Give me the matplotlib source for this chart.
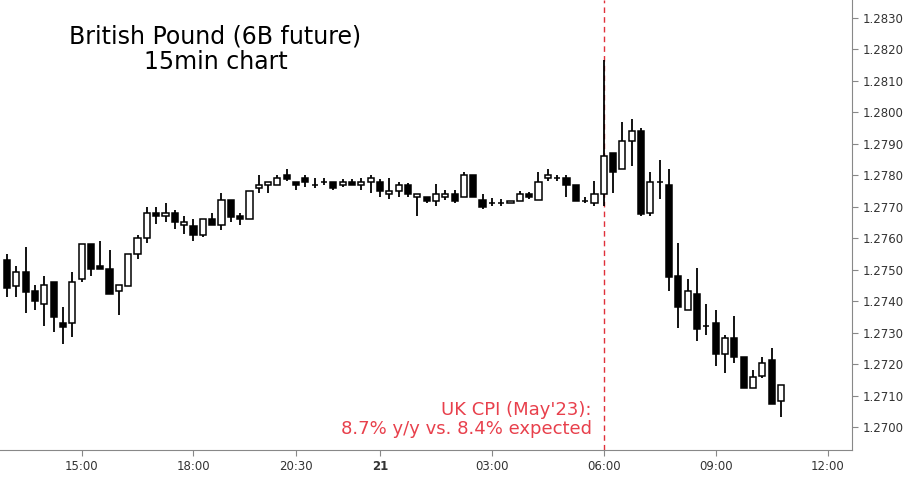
import matplotlib

matplotlib.use("Agg")
import matplotlib.pyplot as plt
import numpy as np

# 15min OHLC, British Pound future
opens = [1.27531, 1.27448, 1.27493, 1.27432, 1.27391, 1.27461, 1.27331, 1.27331, 1.27470, 1.27582,
         1.27512, 1.27502, 1.27432, 1.27448, 1.27550, 1.27601, 1.27680, 1.27671, 1.27680, 1.27642,
         1.27639, 1.27610, 1.27661, 1.27642, 1.27722, 1.27671, 1.27661, 1.27760, 1.27769, 1.27769,
         1.27801, 1.27779, 1.27791, 1.27769, 1.27779, 1.27779, 1.27769, 1.27779, 1.27769, 1.27779,
         1.27779, 1.27741, 1.27750, 1.27769, 1.27731, 1.27731, 1.27718, 1.27731, 1.27741, 1.27731,
         1.27801, 1.27722, 1.27712, 1.27712, 1.27712, 1.27718, 1.27741, 1.27722, 1.27791, 1.27791,
         1.27791, 1.27769, 1.27718, 1.27712, 1.27741, 1.27871, 1.27820, 1.27909, 1.27941, 1.27680,
         1.27779, 1.27769, 1.27480, 1.27372, 1.27423, 1.27321, 1.27331, 1.27232, 1.27283, 1.27223,
         1.27124, 1.27162, 1.27213, 1.27083]
highs = [1.27550, 1.27512, 1.27572, 1.27451, 1.27480, 1.27461, 1.27381, 1.27493, 1.27582, 1.27582,
         1.27591, 1.27563, 1.27451, 1.27550, 1.27610, 1.27699, 1.27699, 1.27712, 1.27690, 1.27671,
         1.27661, 1.27661, 1.27680, 1.27744, 1.27722, 1.27680, 1.27750, 1.27801, 1.27779, 1.27801,
         1.27820, 1.27779, 1.27801, 1.27791, 1.27791, 1.27779, 1.27788, 1.27788, 1.27791, 1.27801,
         1.27788, 1.27791, 1.27779, 1.27776, 1.27741, 1.27731, 1.27772, 1.27753, 1.27753, 1.27811,
         1.27801, 1.27741, 1.27728, 1.27725, 1.27718, 1.27750, 1.27747, 1.27811, 1.27820, 1.27801,
         1.27801, 1.27769, 1.27731, 1.27782, 1.28167, 1.27871, 1.27969, 1.27979, 1.27950, 1.27811,
         1.27849, 1.27820, 1.27585, 1.27470, 1.27505, 1.27391, 1.27372, 1.27292, 1.27353, 1.27223,
         1.27181, 1.27223, 1.27251, 1.27134]
lows = [1.27413, 1.27413, 1.27362, 1.27372, 1.27321, 1.27302, 1.27264, 1.27286, 1.27461, 1.27480,
        1.27502, 1.27423, 1.27356, 1.27448, 1.27534, 1.27585, 1.27645, 1.27652, 1.27629, 1.27613,
        1.27591, 1.27604, 1.27642, 1.27626, 1.27652, 1.27642, 1.27661, 1.27744, 1.27744, 1.27769,
        1.27782, 1.27753, 1.27763, 1.27760, 1.27769, 1.27753, 1.27763, 1.27769, 1.27753, 1.27744,
        1.27731, 1.27725, 1.27731, 1.27731, 1.27671, 1.27712, 1.27702, 1.27722, 1.27712, 1.27731,
        1.27731, 1.27693, 1.27702, 1.27702, 1.27712, 1.27718, 1.27725, 1.27722, 1.27782, 1.27782,
        1.27731, 1.27718, 1.27712, 1.27702, 1.27702, 1.27744, 1.27820, 1.27830, 1.27671, 1.27671,
        1.27725, 1.27432, 1.27315, 1.27372, 1.27273, 1.27292, 1.27194, 1.27172, 1.27203, 1.27124,
        1.27124, 1.27156, 1.27073, 1.27032]
closes = [1.27442, 1.27493, 1.27429, 1.27401, 1.27451, 1.27350, 1.27318, 1.27461, 1.27582, 1.27502,
          1.27502, 1.27423, 1.27451, 1.27550, 1.27601, 1.27680, 1.27671, 1.27680, 1.27652, 1.27652,
          1.27610, 1.27661, 1.27642, 1.27722, 1.27668, 1.27661, 1.27750, 1.27769, 1.27779, 1.27791,
          1.27788, 1.27769, 1.27779, 1.27769, 1.27779, 1.27760, 1.27779, 1.27769, 1.27779, 1.27791,
          1.27750, 1.27750, 1.27769, 1.27741, 1.27741, 1.27718, 1.27741, 1.27741, 1.27718, 1.27801,
          1.27731, 1.27699, 1.27712, 1.27712, 1.27718, 1.27741, 1.27731, 1.27779, 1.27801, 1.27791,
          1.27769, 1.27718, 1.27718, 1.27741, 1.27861, 1.27811, 1.27909, 1.27941, 1.27677, 1.27779,
          1.27779, 1.27477, 1.27381, 1.27432, 1.27312, 1.27321, 1.27232, 1.27283, 1.27223, 1.27124,
          1.27159, 1.27203, 1.27073, 1.27134]

tick_pos = [8, 20, 31, 40, 52, 64, 76, 88]
tick_labels = ["15:00", "18:00", "20:30", "21", "03:00", "06:00", "09:00", "12:00"]
cpi_index = 64

fig = plt.figure(figsize=(9.12, 4.79), dpi=100, facecolor="white")
ax = fig.add_axes([0.0, 0.0605, 0.934, 0.9395])

x = np.arange(len(opens))
o = np.array(opens)
c = np.array(closes)
up = c >= o
ax.vlines(x, lows, highs, color="black", linewidth=1.3, zorder=2)
bottoms = np.minimum(o, c)
heights = np.maximum(np.abs(c - o), 0.000012)
ax.bar(x, heights, bottom=bottoms, width=0.66,
       color=np.where(up, "white", "black"), edgecolor="black", linewidth=1.1, zorder=3)

ax.axvline(cpi_index, color="#e0303a", linestyle=(0, (4, 3)), linewidth=1.0, zorder=1)

ax.set_xlim(-0.75, 90.6)
ax.set_ylim(1.26927, 1.28357)
ax.yaxis.tick_right()
ax.set_yticks(np.arange(1.2700, 1.28305, 0.001))
ax.yaxis.set_major_formatter(matplotlib.ticker.FormatStrFormatter("%.4f"))
ax.set_xticks(tick_pos)
ax.set_xticklabels(tick_labels)
for lbl in ax.get_xticklabels():
    if lbl.get_text() == "21":
        lbl.set_fontweight("bold")
ax.tick_params(axis="both", labelsize=8.5, colors="#333333", length=4, color="#888888")
for side in ["top", "left"]:
    ax.spines[side].set_visible(False)
for side in ["right", "bottom"]:
    ax.spines[side].set_color("#888888")

ax.text(0.253, 0.945, "British Pound (6B future)\n15min chart", transform=ax.transAxes,
        ha="center", va="top", fontsize=17, color="black", linespacing=1.05)
ax.text(cpi_index - 1.3, 1.26965, "UK CPI (May'23):\n8.7% y/y vs. 8.4% expected",
        ha="right", va="bottom", fontsize=13, color="#e8404c", linespacing=1.1)

fig.savefig("out.png", dpi=100, facecolor="white")
